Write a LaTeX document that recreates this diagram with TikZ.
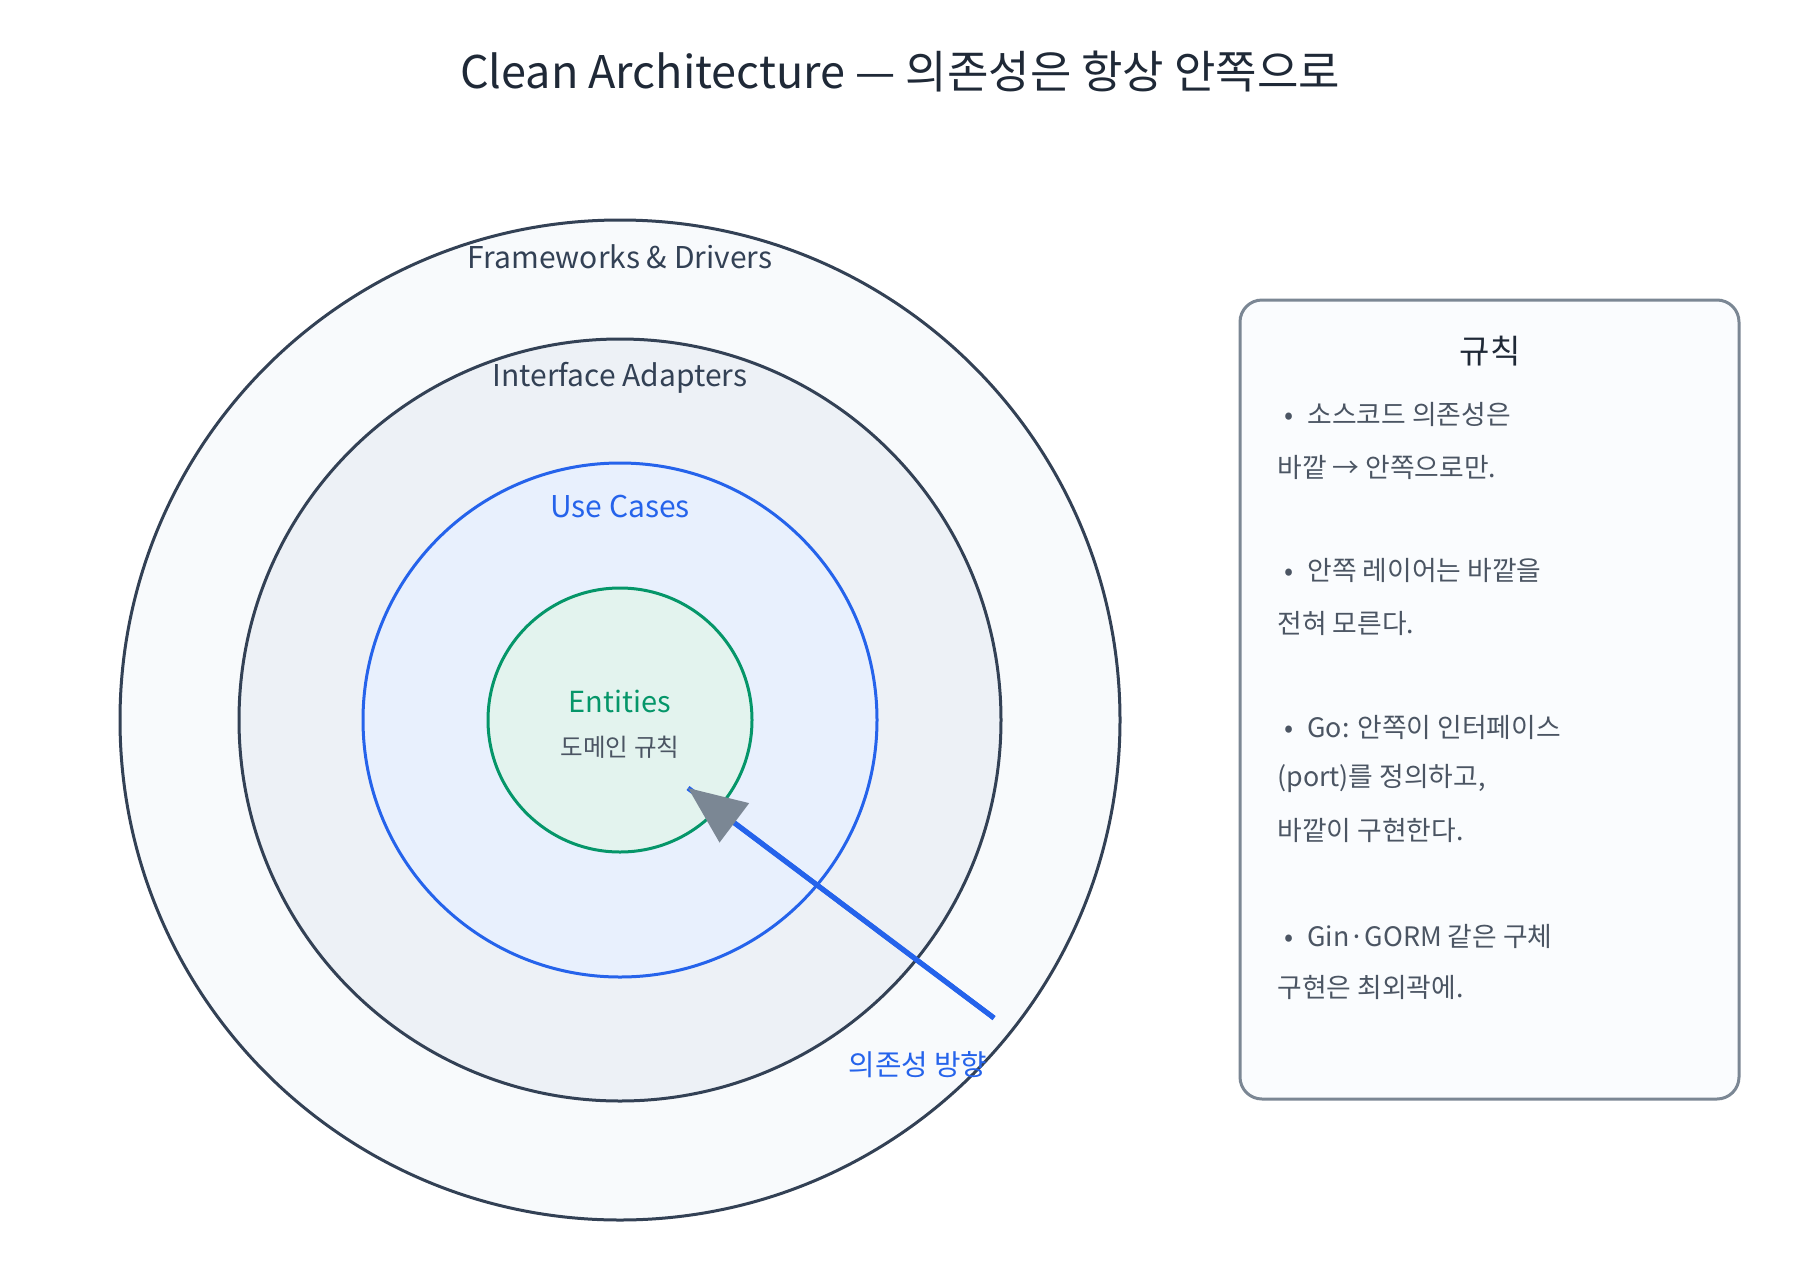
\documentclass[tikz,border=0pt]{standalone}
\usepackage{fontspec}
\setmainfont{Noto Sans CJK KR}
\usetikzlibrary{arrows.meta,positioning}
\definecolor{ink}{HTML}{1F2937}
\definecolor{slate}{HTML}{334155}
\definecolor{muted}{HTML}{4B5563}
\definecolor{steel}{HTML}{7B8794}
\definecolor{azure}{HTML}{2563EB}
\definecolor{leaf}{HTML}{059669}
\definecolor{ringout}{HTML}{F8FAFC}
\definecolor{ringmid}{HTML}{EDF1F6}
\definecolor{ringuse}{HTML}{E8F0FD}
\definecolor{ringcore}{HTML}{E3F3EE}
\definecolor{panel}{HTML}{FAFCFE}
\begin{document}
\begin{tikzpicture}[x=0.5pt,y=-0.5pt,
  layer/.style={font=\fontsize{15}{18}\selectfont},
  rule/.style={anchor=west,inner sep=0pt,font=\fontsize{13.4}{16}\selectfont\color{muted}}]
  \useasboundingbox[fill=white] (0,0) rectangle (1800,1280);
  \node[font=\fontsize{22.5}{27}\selectfont\color{ink}] (title) at (900,72) {Clean Architecture — 의존성은 항상 안쪽으로};

  % onion rings
  \coordinate (core) at (620,720);
  \filldraw[fill=ringout,draw=slate,line width=1.5pt] (core) circle (500);
  \filldraw[fill=ringmid,draw=slate,line width=1.5pt] (core) circle (381);
  \filldraw[fill=ringuse,draw=azure,line width=1.5pt] (core) circle (257);
  \filldraw[fill=ringcore,draw=leaf,line width=1.5pt] (core) circle (132);
  \node[layer,text=slate] (frameworks) at (620,257) {Frameworks \& Drivers};
  \node[layer,text=slate] (adapters) at (620,378) {Interface Adapters};
  \node[layer,text=azure] (usecases) at (620,506) {Use Cases};
  \node[layer,text=leaf,font=\fontsize{14.5}{17}\selectfont] (entities) at (620,701) {Entities};
  \node[font=\fontsize{12.3}{15}\selectfont\color{muted}] (domain) at (620,747) {도메인 규칙};

  % dependency arrow
  \coordinate (outside) at (994,1018);
  \coordinate (inside) at (688,788);
  \draw[azure,line width=2.5pt] (outside) -- (inside);
  \draw[azure,line width=2.5pt,-{Triangle[length=29pt,width=24pt,color=steel]}] (outside) -- (inside);
  \node[font=\fontsize{14.4}{17}\selectfont\color{azure}] (direction) at (918,1065) {의존성 방향};

  % rules panel
  \draw[fill=panel,draw=steel,line width=1.5pt,rounded corners=11pt] (1240,300) rectangle (1739,1099);
  \node[font=\fontsize{16.5}{20}\selectfont\color{ink}] (rulestitle) at (1490,351) {규칙};
  \foreach \y/\t [count=\i] in {414/{\hspace{3.5pt}•\hspace{7pt}소스코드 의존성은},467/{바깥 → 안쪽으로만.},
      570/{\hspace{3.5pt}•\hspace{7pt}안쪽 레이어는 바깥을},623/{전혀 모른다.},
      727/{\hspace{3.5pt}•\hspace{7pt}Go: 안쪽이 인터페이스},778/{(port)를 정의하고,},830/{바깥이 구현한다.},
      936/{\hspace{3.5pt}•\hspace{7pt}Gin·GORM 같은 구체},987/{구현은 최외곽에.}}
    \node[rule] (rule\i) at (1277,\y) {\t};
\end{tikzpicture}
\end{document}
